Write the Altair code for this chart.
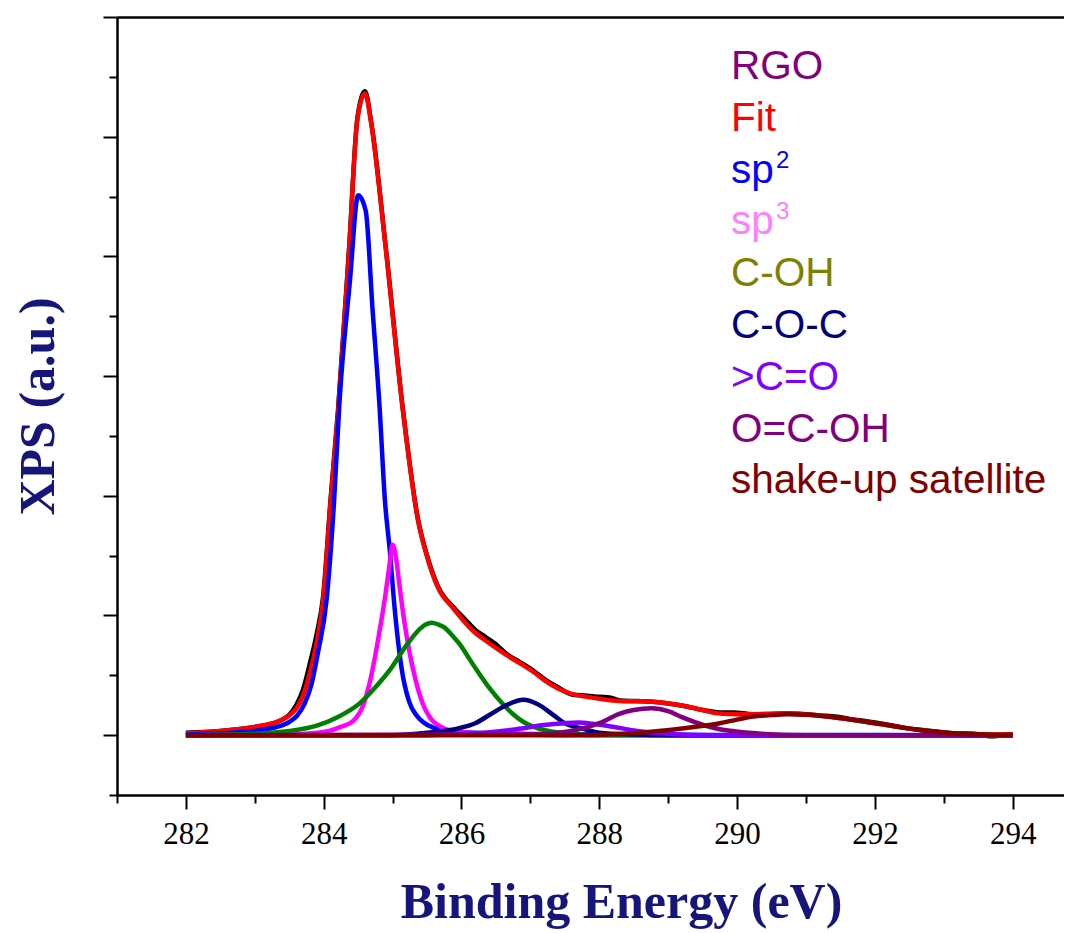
import altair as alt
import pandas as pd

# ---------------- data ----------------
rgo_e = [282.0, 282.5, 282.9, 283.2, 283.4, 283.5, 283.6, 283.7, 283.8, 283.9, 283.99, 284.10, 284.21,
         284.37, 284.49, 284.60, 284.69, 284.90, 285.15, 285.37, 285.49, 285.66, 285.88, 286.05,
         286.2, 286.35, 286.5, 286.65, 286.85, 287.04, 287.2, 287.40, 287.6, 287.82, 288.0, 288.15,
         288.30, 288.55, 288.78, 289.0, 289.27, 289.5, 289.75, 289.95, 290.23, 290.72, 291.20, 291.5,
         291.69, 291.9, 292.17, 292.4, 292.65, 292.9, 293.14, 293.5, 293.7, 293.85, 294.0]
rgo_v = [0.02, 0.035, 0.06, 0.09, 0.13, 0.17, 0.25, 0.38, 0.60, 0.85, 1.15, 1.97, 2.73,
         4.08, 5.16, 5.38, 5.12, 4.08, 2.72, 1.80, 1.52, 1.24, 1.07, 0.97,
         0.88, 0.82, 0.76, 0.68, 0.61, 0.54, 0.47, 0.40, 0.34, 0.33, 0.32, 0.315,
         0.29, 0.285, 0.28, 0.265, 0.24, 0.21, 0.19, 0.19, 0.175, 0.18, 0.165, 0.15,
         0.13, 0.115, 0.09, 0.065, 0.045, 0.03, 0.017, 0.008, -0.01, 0.0, 0.005]

fit_e = [282.0, 282.5, 282.88, 283.1, 283.27, 283.4, 283.5, 283.6, 283.7, 283.8, 283.9, 283.99, 284.10,
         284.21, 284.37, 284.49, 284.60, 284.69, 284.90, 285.15, 285.37, 285.49, 285.66, 285.88,
         286.17, 286.4, 286.65, 286.85, 287.04, 287.2, 287.40, 287.6, 287.82, 288.05, 288.30, 288.55,
         288.78, 289.0, 289.27, 289.5, 289.75, 290.0, 290.23, 290.5, 290.72, 291.0, 291.20, 291.45,
         291.69, 291.9, 292.17, 292.4, 292.65, 292.9, 293.14, 293.5, 294.0]
fit_v = [0.015, 0.035, 0.057, 0.08, 0.10, 0.13, 0.165, 0.22, 0.33, 0.52, 0.78, 1.12, 1.95,
         2.71, 4.07, 5.15, 5.36, 5.11, 4.07, 2.71, 1.79, 1.51, 1.23, 1.06,
         0.87, 0.77, 0.67, 0.60, 0.53, 0.46, 0.39, 0.345, 0.32, 0.30, 0.286, 0.283,
         0.28, 0.265, 0.24, 0.21, 0.18, 0.175, 0.174, 0.177, 0.18, 0.172, 0.163, 0.145,
         0.127, 0.108, 0.085, 0.063, 0.043, 0.027, 0.015, 0.008, 0.005]

sp2_e = [282.0, 282.5, 282.9, 283.12, 283.36, 283.5, 283.61, 283.72, 283.82, 283.92, 284.04, 284.15,
         284.23, 284.38, 284.50, 284.61, 284.71, 284.81, 284.89, 284.96, 285.02, 285.13, 285.24,
         285.34, 285.44, 285.6, 285.78, 286.2, 287.0, 288.0, 290.0, 294.0]
sp2_v = [0.005, 0.015, 0.03, 0.045, 0.075, 0.11, 0.16, 0.26, 0.42, 0.70, 1.12, 1.95,
         2.79, 3.79, 4.51, 4.38, 3.55, 2.75, 1.95, 1.54, 1.12, 0.56, 0.28,
         0.17, 0.11, 0.06, 0.04, 0.02, 0.01, 0.005, 0.002, 0.0]

sp3_e = [282.0, 283.5, 284.04, 284.25, 284.43, 284.58, 284.66, 284.74, 284.82, 284.89, 284.95, 285.00,
         285.05, 285.10, 285.17, 285.25, 285.33, 285.44, 285.55, 285.7, 285.83, 286.1, 286.5, 287.5, 294.0]
sp3_v = [0.0, 0.005, 0.03, 0.07, 0.12, 0.26, 0.42, 0.64, 0.90, 1.15, 1.40, 1.59,
         1.48, 1.25, 0.95, 0.68, 0.47, 0.26, 0.14, 0.07, 0.04, 0.02, 0.01, 0.0, 0.0]

coh_e = [282.0, 283.0, 283.5, 283.9, 284.2, 284.53, 284.75, 284.98, 285.2, 285.4, 285.48, 285.57,
         285.66, 285.75, 285.9, 286.0, 286.1, 286.25, 286.41, 286.6, 286.75, 286.9, 287.09, 287.3,
         287.6, 288.0, 294.0]
coh_v = [0.0, 0.012, 0.035, 0.08, 0.15, 0.27, 0.40, 0.56, 0.75, 0.89, 0.925, 0.94,
         0.925, 0.90, 0.81, 0.74, 0.65, 0.52, 0.39, 0.26, 0.175, 0.11, 0.06, 0.03,
         0.01, 0.0, 0.0]

coc_e = [282.0, 285.0, 285.5, 285.98, 286.2, 286.41, 286.65, 286.90, 287.1, 287.33, 287.5, 287.72,
         288.0, 288.5, 289.0, 294.0]
coc_v = [0.0, 0.0, 0.02, 0.06, 0.10, 0.17, 0.25, 0.295, 0.26, 0.17, 0.10, 0.06,
         0.02, 0.005, 0.0, 0.0]

co_e = [282.0, 285.5, 286.0, 286.41, 286.8, 287.2, 287.5, 287.7, 287.9, 288.2, 288.5, 288.8,
        289.2, 289.6, 294.0]
co_v = [0.0, 0.0, 0.01, 0.025, 0.05, 0.085, 0.10, 0.105, 0.095, 0.07, 0.04, 0.02,
        0.005, 0.0, 0.0]

cooh_e = [282.0, 287.0, 287.4, 287.72, 288.0, 288.3, 288.5, 288.76, 289.0, 289.2, 289.51, 289.75,
          289.99, 290.4, 291.0, 294.0]
cooh_v = [0.0, 0.005, 0.02, 0.05, 0.10, 0.18, 0.21, 0.224, 0.20, 0.15, 0.085, 0.05,
          0.03, 0.01, 0.0, 0.0]

sat_e = [282.0, 287.5, 288.3, 289.02, 289.4, 289.75, 290.0, 290.23, 290.5, 290.72, 291.0, 291.20,
         291.45, 291.69, 291.9, 292.17, 292.4, 292.65, 292.9, 293.14, 293.6, 294.0]
sat_v = [0.0, 0.0, 0.01, 0.043, 0.07, 0.10, 0.13, 0.155, 0.168, 0.174, 0.170, 0.163,
         0.145, 0.127, 0.108, 0.085, 0.063, 0.043, 0.027, 0.015, 0.006, 0.003]

series_names = ["RGO", "Fit", "sp2", "sp3", "C-OH", "C-O-C", ">C=O", "O=C-OH", "shake-up satellite"]
series_e = [rgo_e, fit_e, sp2_e, sp3_e, coh_e, coc_e, co_e, cooh_e, sat_e]
series_v = [rgo_v, fit_v, sp2_v, sp3_v, coh_v, coc_v, co_v, cooh_v, sat_v]
line_colors = ["#000000", "#ff0000", "#0000ff", "#ff00ff", "#008000", "#000080", "#8000ff", "#800080", "#800000"]

legend_labels = ["RGO", "Fit", "sp", "sp", "C-OH", "C-O-C", ">C=O", "O=C-OH", "shake-up satellite"]
legend_colors = ["#800080", "#ff0000", "#0000ff", "#ff80ff", "#808000", "#000080", "#8000ff", "#800080", "#800000"]
sup_labels = ["2", "3"]
sup_rows = [2, 3]

x_ticks = list(range(281, 295))
y_ticks = [-0.5 + 0.5 * i for i in range(14)]

# ---------------- chart ----------------
W, H = 947, 778
title_color = "#16167a"

x_scale = alt.Scale(domain=[281, 294.745], nice=False, zero=False)
y_scale = alt.Scale(domain=[-0.5, 6.0], nice=False, zero=False)

x_axis = alt.Axis(
    values=x_ticks, grid=False, domainColor="black", domainWidth=2.5,
    tickColor="black", tickWidth=2,
    tickSize={"condition": {"test": "datum.value % 2 === 0", "value": 14}, "value": 8},
    labelExpr="datum.value % 2 === 0 ? datum.label : ''",
    labelFont="Liberation Serif", labelFontSize=31, labelColor="black", labelPadding=10,
    labelFlush=False, labelOverlap=False,
    title="Binding Energy (eV)", titleFont="Liberation Serif", titleFontSize=50,
    titleFontWeight="bold", titleColor=title_color, titleX=504, titleY=122,
    titleAnchor="start", titleAlign="center", titleBaseline="alphabetic",
)
y_axis = alt.Axis(
    values=y_ticks, grid=False, labels=False, domainColor="black", domainWidth=2.5,
    tickColor="black", tickWidth=2,
    tickSize={"condition": {"test": "datum.value % 1 === 0", "value": 14}, "value": 8},
    title="XPS (a.u.)", titleFont="Liberation Serif", titleFontSize=50,
    titleFontWeight="bold", titleColor=title_color, titleX=-64, titleY=389,
    titleAngle=-90, titleAlign="center", titleBaseline="alphabetic", titleAnchor="start",
)

layers = []
for name, es, vs, col in zip(series_names, series_e, series_v, line_colors):
    df = pd.DataFrame({"E": es, "I": vs, "series": name})
    layers.append(
        alt.Chart(df).mark_line(color=col, strokeWidth=4.5, interpolate="monotone").encode(
            x=alt.X("E:Q", scale=x_scale, axis=x_axis),
            y=alt.Y("I:Q", scale=y_scale, axis=y_axis),
        )
    )

# legend texts
for i, (lab, col) in enumerate(zip(legend_labels, legend_colors)):
    layers.append(
        alt.Chart(pd.DataFrame({"t": [lab]})).mark_text(
            font="Liberation Sans", fontSize=40.5, color=col, align="left", baseline="alphabetic"
        ).encode(text="t:N", x=alt.value(614), y=alt.value(62 + 51.8 * i))
    )
for lab, row in zip(sup_labels, sup_rows):
    layers.append(
        alt.Chart(pd.DataFrame({"t": [lab]})).mark_text(
            font="Liberation Sans", fontSize=24, color=legend_colors[row], align="left",
            baseline="alphabetic"
        ).encode(text="t:N", x=alt.value(659), y=alt.value(62 + 51.8 * row - 15))
    )

inner = alt.layer(*layers)

top_frame = alt.Chart(pd.DataFrame({"E": fit_e, "I": fit_v})).mark_line(opacity=0).encode(
    x=alt.X("E:Q", scale=x_scale,
            axis=alt.Axis(orient="top", labels=False, ticks=False, title=None, grid=False,
                          domainColor="black", domainWidth=2.5)),
    y=alt.Y("I:Q", scale=y_scale, axis=None),
)

chart = alt.layer(inner, top_frame).resolve_axis(x="independent", y="independent").properties(
    width=W, height=H,
    autosize=alt.AutoSizeParams(type="none"),
    padding={"left": 109, "top": 9, "right": 0, "bottom": 145},
    background="white",
).configure_view(stroke=None)

chart.save("out.html", embed_options={"renderer": "svg", "actions": False})
